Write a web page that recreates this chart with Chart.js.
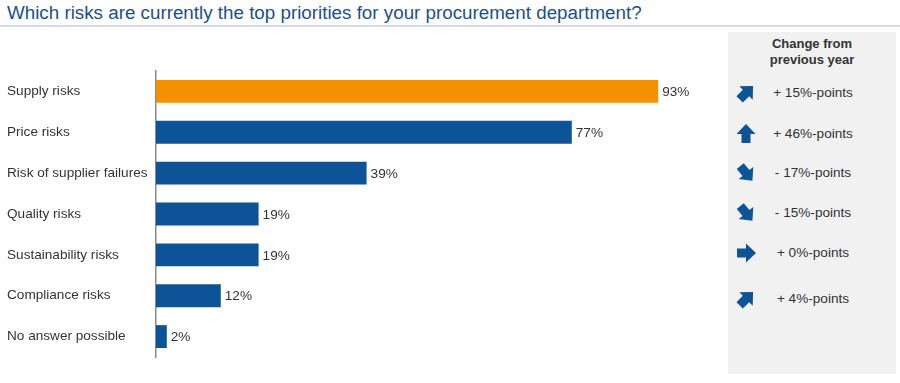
<!DOCTYPE html>
<html>
<head>
<meta charset="utf-8">
<script src="https://cdn.jsdelivr.net/npm/chart.js@4/dist/chart.umd.min.js"></script>
<style>
  html, body { margin: 0; padding: 0; background: #fff; }
  body { width: 900px; height: 383px; position: relative; overflow: hidden; font-family: "Liberation Sans", Arial, sans-serif; }
  #title { position: absolute; left: 7px; top: 2px; font-size: 18.8px; color: #1c4f8e; white-space: nowrap; }
  #rule { position: absolute; left: 0; top: 25px; width: 900px; height: 2px; background: #d5dce8; }
  #panel { position: absolute; left: 728px; top: 32px; width: 168px; height: 342px; background: #f1f1f1; }
  #head { position: absolute; left: 728px; top: 36px; width: 168px; text-align: center; font-weight: bold; font-size: 13px; line-height: 16px; color: #333; }
  .row { position: absolute; left: 728px; width: 168px; height: 24px; }
  .row svg { position: absolute; left: 6px; top: 0; }
  .row span { position: absolute; left: 40px; width: 90px; text-align: center; font-size: 13.6px; line-height: 24px; color: #333; white-space: nowrap; }
  canvas { position: absolute; left: 0; top: 0; }
</style>
</head>
<body>
<div id="title">Which risks are currently the top priorities for your procurement department?</div>
<div id="rule"></div>
<div id="panel"></div>
<div id="head">Change from<br>previous year</div>
<div id="rows"></div>
<canvas id="c" width="900" height="383"></canvas>
<script>
const categories = ["Supply risks", "Price risks", "Risk of supplier failures", "Quality risks", "Sustainability risks", "Compliance risks", "No answer possible"];
const shares = [93, 77, 39, 19, 19, 12, 2];
const barColors = ["#f39100", "#0c5398", "#0c5398", "#0c5398", "#0c5398", "#0c5398", "#0c5398"];
const changeLabels = ["+ 15%-points", "+ 46%-points", "- 17%-points", "- 15%-points", "+ 0%-points", "+ 4%-points"];
const changeArrowAngles = [-45, -90, 50, 50, 0, -45];
const changeRowTops = [81, 122, 161, 201, 241, 287];

// right-hand panel rows
const rowsEl = document.getElementById('rows');
changeLabels.forEach((t, i) => {
  const d = document.createElement('div');
  d.className = 'row';
  d.style.top = changeRowTops[i] + 'px';
  d.innerHTML = '<svg width="24" height="24" viewBox="-12 -12 24 24"><g transform="rotate(' + changeArrowAngles[i] + ')"><path d="M-9,-4.5 L0,-4.5 L0,-9.5 L10,0 L0,9.5 L0,4.5 L-9,4.5 Z" fill="#0c5398"/></g></svg><span>' + t + '</span>';
  rowsEl.appendChild(d);
});

const valueLabels = {
  id: 'valueLabels',
  afterDatasetsDraw(chart) {
    const ctx = chart.ctx;
    const meta = chart.getDatasetMeta(0);
    ctx.save();
    ctx.font = '13.6px "Liberation Sans", Arial, sans-serif';
    ctx.fillStyle = '#333';
    ctx.textAlign = 'left';
    ctx.textBaseline = 'middle';
    meta.data.forEach((bar, i) => {
      ctx.fillText(shares[i] + '%', bar.x + 4, bar.y + 1);
    });
    ctx.restore();
  }
};

new Chart(document.getElementById('c'), {
  type: 'bar',
  data: {
    labels: categories,
    datasets: [{
      data: shares,
      backgroundColor: barColors,
      borderWidth: 0,
      categoryPercentage: 1,
      barPercentage: 0.56
    }]
  },
  options: {
    indexAxis: 'y',
    responsive: false,
    animation: false,
    devicePixelRatio: 1,
    layout: { padding: { left: 7, right: 204, top: 71, bottom: 26 } },
    plugins: { legend: { display: false }, tooltip: { enabled: false } },
    scales: {
      x: { display: false, min: 0, max: 100 },
      y: {
        afterFit(scale) { scale.width = 149; },
        grid: { display: false, drawTicks: false },
        border: { display: true, color: '#8a8a8a', width: 1.5 },
        ticks: {
          crossAlign: 'far',
          padding: 0,
          color: '#333',
          font: { family: '"Liberation Sans", Arial, sans-serif', size: 13.6 }
        }
      }
    }
  },
  plugins: [valueLabels]
});
</script>
</body>
</html>
